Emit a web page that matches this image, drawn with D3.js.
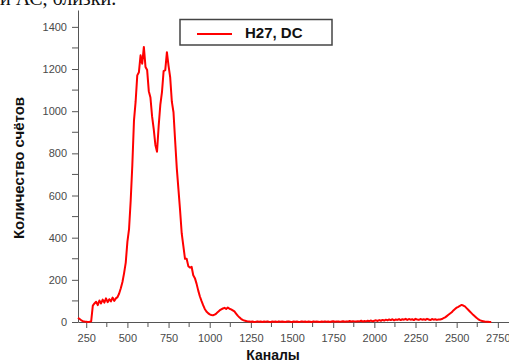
<!DOCTYPE html>
<html lang="ru">
<head>
  <meta charset="UTF-8">
  <title>Спектр H27, DC</title>
  <script src="https://d3js.org/d3.v7.min.js"></script>
  <style>
    body { margin: 0; background: #fff; }
    svg { display: block; font-family: "Liberation Sans", Arial, sans-serif; }
    .tick text { fill: #4a4a4a; font-size: 11px; }
    .axis path, .axis line { stroke: #555; }
  </style>
</head>
<body>
  <svg width="509" height="363"></svg>

  <script>
    // channel grid of the spectrum (step 10)
    const channels = d3.range(200, 2720, 10);

    // counts, one per channel above
    const counts = [
      20, 14, 8, 4, 2, 1, 0, 1, 3, 78,            // 200-290
      88, 96, 80, 102, 88, 106, 92, 112, 94, 108, // 300-390
      98, 116, 100, 112, 118, 135, 160, 190, 232, 282, // 400-490
      380, 440, 575, 745, 955, 1045, 1170, 1185, 1265, 1225, // 500-590
      1305, 1210, 1195, 1095, 1065, 975, 915, 840, 808, 930, // 600-690
      1030, 1090, 1190, 1195, 1280, 1215, 1160, 1045, 995, 860, // 700-790
      730, 630, 530, 420, 360, 300, 300, 265, 258, 262, // 800-890
      222, 208, 182, 150, 122, 100, 80, 62, 50, 42,     // 900-990
      36, 33, 32, 35, 40, 48, 55, 60, 64, 67,           // 1000-1090
      62, 69, 63, 60, 55, 50, 40, 30, 22, 15,           // 1100-1190
      10, 7, 5, 3, 2, 1, 2, 0, 1, 3,                    // 1200-1290
      1, 2, 0, 2, 1, 3, 1, 0, 2, 1,                     // 1300-1390
      2, 0, 3, 1, 2, 1, 0, 2, 3, 1,                     // 1400-1490
      0, 2, 1, 2, 0, 1, 3, 1, 2, 0,                     // 1500-1590
      2, 1, 0, 3, 1, 2, 1, 0, 2, 1,                     // 1600-1690
      3, 1, 2, 0, 2, 4, 1, 2, 3, 1,                     // 1700-1790
      2, 4, 1, 3, 2, 5, 2, 4, 3, 2,                     // 1800-1890
      4, 3, 6, 2, 5, 3, 6, 4, 7, 3,                     // 1900-1990
      6, 8, 5, 9, 6, 10, 7, 11, 8, 12,                  // 2000-2090
      9, 13, 8, 12, 10, 14, 9, 13, 11, 15,              // 2100-2190
      10, 14, 11, 13, 9, 15, 12, 10, 14, 11,            // 2200-2290
      13, 10, 15, 12, 9, 14, 11, 13, 10, 12,            // 2300-2390
      12, 14, 18, 22, 28, 34, 40, 46, 55, 62,           // 2400-2490
      68, 72, 77, 81, 78, 74, 66, 58, 50, 42,           // 2500-2590
      34, 27, 20, 14, 9, 6, 4, 2, 1, 1,                 // 2600-2690
      0, 0                                              // 2700-2710
    ];

    const xTicks = [250, 500, 750, 1000, 1250, 1500, 1750, 2000, 2250, 2500, 2750];
    const yTicks = [0, 200, 400, 600, 800, 1000, 1200, 1400];

    const seriesName = "H27, DC";
    const xTitle = "Каналы";
    const yTitle = "Количество счётов";
    const pageText = "и АС, близки.";

    const svg = d3.select("svg");

    const x = d3.scaleLinear().domain([200, 2830]).range([78, 511]);
    const y = d3.scaleLinear().domain([0, 1480]).range([322, 10]);

    // cut-off line of document text above the figure
    svg.append("text")
      .attr("x", 0).attr("y", 5)
      .attr("font-family", "'Liberation Serif', 'Times New Roman', serif")
      .attr("font-size", 20)
      .attr("fill", "#111")
      .text(pageText);

    // minor ticks
    const xMinor = d3.range(375, 2830, 250);
    const yMinor = d3.range(100, 1480, 200);

    svg.append("g")
      .selectAll("line")
      .data(xMinor)
      .join("line")
      .attr("x1", d => x(d)).attr("x2", d => x(d))
      .attr("y1", 322).attr("y2", 327)
      .attr("stroke", "#555");

    svg.append("g")
      .selectAll("line")
      .data(yMinor)
      .join("line")
      .attr("x1", 72).attr("x2", 78)
      .attr("y1", d => y(d)).attr("y2", d => y(d))
      .attr("stroke", "#555");

    svg.append("g")
      .attr("class", "axis")
      .attr("transform", "translate(0,322)")
      .call(d3.axisBottom(x).tickValues(xTicks).tickFormat(d3.format("d"))
        .tickSize(6).tickSizeOuter(0))
      .call(g => g.selectAll(".tick text").attr("y", 20).attr("dy", 0));

    svg.append("g")
      .attr("class", "axis")
      .attr("transform", "translate(78,0)")
      .call(d3.axisLeft(y).tickValues(yTicks).tickFormat(d3.format("d"))
        .tickSize(6).tickPadding(5).tickSizeOuter(0));

    // spectrum line
    const line = d3.line()
      .x((d, i) => x(channels[i]))
      .y(d => y(d));

    svg.append("path")
      .datum(counts)
      .attr("fill", "none")
      .attr("stroke", "#ff0000")
      .attr("stroke-width", 2)
      .attr("stroke-linejoin", "round")
      .attr("d", line);

    // axis titles
    svg.append("text")
      .attr("x", 273).attr("y", 360)
      .attr("text-anchor", "middle")
      .attr("font-weight", "bold")
      .attr("font-size", 14)
      .attr("fill", "#111")
      .text(xTitle);

    svg.append("text")
      .attr("transform", "translate(24,168) rotate(-90)")
      .attr("text-anchor", "middle")
      .attr("font-weight", "bold")
      .attr("font-size", 15)
      .attr("fill", "#111")
      .text(yTitle);

    // legend
    const legend = svg.append("g");
    legend.append("rect")
      .attr("x", 180).attr("y", 19.5)
      .attr("width", 152).attr("height", 25.5)
      .attr("fill", "#fff")
      .attr("stroke", "#444")
      .attr("stroke-width", 1.5);
    legend.append("line")
      .attr("x1", 197).attr("x2", 232)
      .attr("y1", 34).attr("y2", 34)
      .attr("stroke", "#ff0000")
      .attr("stroke-width", 2);
    legend.append("text")
      .attr("x", 245).attr("y", 37.5)
      .attr("font-weight", "bold")
      .attr("font-size", 15)
      .attr("fill", "#111")
      .text(seriesName);
  </script>
</body>
</html>
